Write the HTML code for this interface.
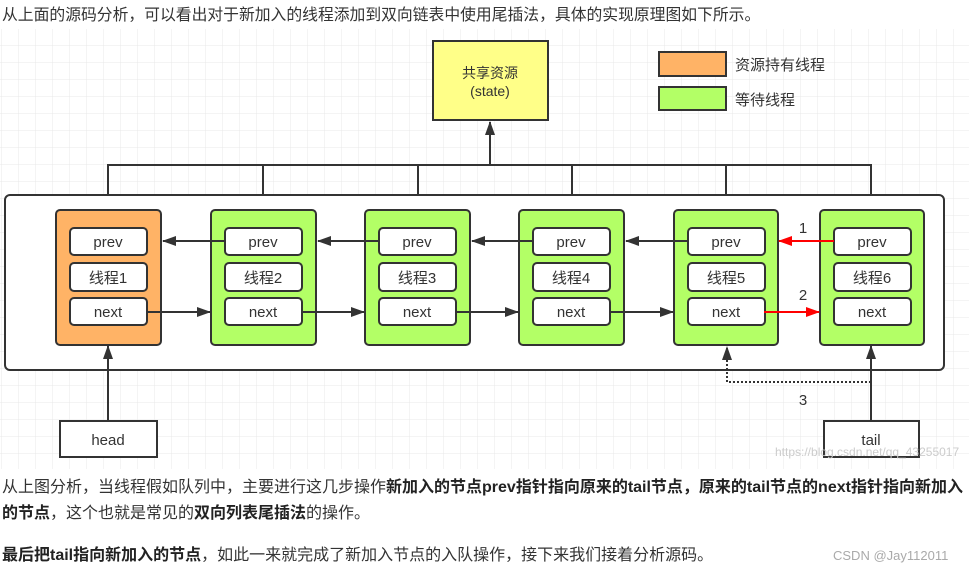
<!DOCTYPE html>
<html><head><meta charset="utf-8"><style>
body{margin:0;width:969px;height:573px;background:#fff;overflow:hidden;position:relative;font-family:"Liberation Sans","Noto Sans CJK SC",sans-serif;color:#333}
.t{position:absolute;left:2px;white-space:nowrap;font-size:16px;line-height:20px}
b{color:#222}
</style></head><body>
<div class="t" style="top:6px;font-size:15.8px">从上面的源码分析，可以看出对于新加入的线程添加到双向链表中使用尾插法，具体的实现原理图如下所示。</div>
<svg style="position:absolute;left:0;top:29px" width="969" height="440" viewBox="0 29 969 440" font-family="Liberation Sans,Noto Sans CJK SC,sans-serif">
<defs>
<pattern id="g" x="2" y="29" width="17" height="17" patternUnits="userSpaceOnUse"><path d="M17 0V17M0 17H17" stroke="#e8e8e8" fill="none" stroke-width="1"/></pattern>
<marker id="a" markerWidth="14" markerHeight="10" refX="13" refY="5" orient="auto" markerUnits="userSpaceOnUse"><path d="M0 0L14 5L0 10z" fill="#333"/></marker>
<marker id="r" markerWidth="14" markerHeight="10" refX="13" refY="5" orient="auto" markerUnits="userSpaceOnUse"><path d="M0 0L14 5L0 10z" fill="#f00"/></marker>
</defs>
<rect x="0" y="29" width="969" height="440" fill="url(#g)"/>
<g stroke="#333" stroke-width="2" fill="none">
<path d="M108 210V165H871V210M263 165V210M418 165V210M572 165V210M726 165V210"/>
<path d="M490 165V122" marker-end="url(#a)"/>
</g>
<rect x="433" y="41" width="115" height="79" fill="#ffff88" stroke="#333" stroke-width="2"/>
<text x="490" y="78" text-anchor="middle" font-size="14" fill="#333">共享资源</text>
<text x="490" y="96" text-anchor="middle" font-size="14" fill="#333">(state)</text>
<rect x="659" y="52" width="67" height="24" fill="#ffb366" stroke="#333" stroke-width="2"/>
<rect x="659" y="87" width="67" height="23" fill="#b3ff66" stroke="#333" stroke-width="2"/>
<text x="735" y="70" font-size="15" fill="#333">资源持有线程</text>
<text x="735" y="105" font-size="15" fill="#333">等待线程</text>
<rect x="5" y="195" width="939" height="175" rx="5" fill="#fff" stroke="#333" stroke-width="2"/>
<g font-size="15" fill="#333" text-anchor="middle" stroke-width="2">
<g transform="translate(56,0)"><rect y="210" width="105" height="135" rx="4" fill="#ffb366" stroke="#333"/>
<rect x="14" y="228" width="77" height="27" rx="4" fill="#fff" stroke="#333"/><rect x="14" y="263" width="77" height="28" rx="4" fill="#fff" stroke="#333"/><rect x="14" y="298" width="77" height="27" rx="4" fill="#fff" stroke="#333"/>
<text x="52" y="247">prev</text><text x="52" y="283">线程1</text><text x="52" y="317">next</text></g>
<g transform="translate(211,0)"><rect y="210" width="105" height="135" rx="4" fill="#b3ff66" stroke="#333"/>
<rect x="14" y="228" width="77" height="27" rx="4" fill="#fff" stroke="#333"/><rect x="14" y="263" width="77" height="28" rx="4" fill="#fff" stroke="#333"/><rect x="14" y="298" width="77" height="27" rx="4" fill="#fff" stroke="#333"/>
<text x="52" y="247">prev</text><text x="52" y="283">线程2</text><text x="52" y="317">next</text></g>
<g transform="translate(365,0)"><rect y="210" width="105" height="135" rx="4" fill="#b3ff66" stroke="#333"/>
<rect x="14" y="228" width="77" height="27" rx="4" fill="#fff" stroke="#333"/><rect x="14" y="263" width="77" height="28" rx="4" fill="#fff" stroke="#333"/><rect x="14" y="298" width="77" height="27" rx="4" fill="#fff" stroke="#333"/>
<text x="52" y="247">prev</text><text x="52" y="283">线程3</text><text x="52" y="317">next</text></g>
<g transform="translate(519,0)"><rect y="210" width="105" height="135" rx="4" fill="#b3ff66" stroke="#333"/>
<rect x="14" y="228" width="77" height="27" rx="4" fill="#fff" stroke="#333"/><rect x="14" y="263" width="77" height="28" rx="4" fill="#fff" stroke="#333"/><rect x="14" y="298" width="77" height="27" rx="4" fill="#fff" stroke="#333"/>
<text x="52" y="247">prev</text><text x="52" y="283">线程4</text><text x="52" y="317">next</text></g>
<g transform="translate(674,0)"><rect y="210" width="104" height="135" rx="4" fill="#b3ff66" stroke="#333"/>
<rect x="14" y="228" width="77" height="27" rx="4" fill="#fff" stroke="#333"/><rect x="14" y="263" width="77" height="28" rx="4" fill="#fff" stroke="#333"/><rect x="14" y="298" width="77" height="27" rx="4" fill="#fff" stroke="#333"/>
<text x="52" y="247">prev</text><text x="52" y="283">线程5</text><text x="52" y="317">next</text></g>
<g transform="translate(820,0)"><rect y="210" width="104" height="135" rx="4" fill="#b3ff66" stroke="#333"/>
<rect x="14" y="228" width="77" height="27" rx="4" fill="#fff" stroke="#333"/><rect x="14" y="263" width="77" height="28" rx="4" fill="#fff" stroke="#333"/><rect x="14" y="298" width="77" height="27" rx="4" fill="#fff" stroke="#333"/>
<text x="52" y="247">prev</text><text x="52" y="283">线程6</text><text x="52" y="317">next</text></g>
</g>
<g stroke="#333" stroke-width="2" fill="none">
<path d="M225 241H163" marker-end="url(#a)"/><path d="M379 241H318" marker-end="url(#a)"/><path d="M533 241H472" marker-end="url(#a)"/><path d="M688 241H626" marker-end="url(#a)"/>
<path d="M147 312H210" marker-end="url(#a)"/><path d="M302 312H364" marker-end="url(#a)"/><path d="M456 312H518" marker-end="url(#a)"/><path d="M610 312H673" marker-end="url(#a)"/>
<path d="M108 421V346" marker-end="url(#a)"/><path d="M871 421V346" marker-end="url(#a)"/>
<path d="M871 382H727V347" stroke-dasharray="2,2" marker-end="url(#a)"/>
</g>
<g stroke="#f00" stroke-width="2" fill="none">
<path d="M834 241H779" marker-end="url(#r)"/><path d="M764 312H819" marker-end="url(#r)"/>
</g>
<g font-size="15" fill="#333" text-anchor="middle"><text x="803" y="233">1</text><text x="803" y="300">2</text><text x="803" y="405">3</text></g>
<rect x="60" y="421" width="97" height="36" fill="#fff" stroke="#333" stroke-width="2"/>
<rect x="824" y="421" width="95" height="36" fill="#fff" stroke="#333" stroke-width="2"/>
<text x="108" y="445" text-anchor="middle" font-size="15" fill="#333">head</text>
<text x="871" y="445" text-anchor="middle" font-size="15" fill="#333">tail</text>
<text x="775" y="456" font-size="12" fill="#ccc">https://blog.csdn.net/qq_43255017</text>
</svg>
<div class="t" style="top:478px">从上图分析，当线程假如队列中，主要进行这几步操作<b>新加入的节点prev指针指向原来的tail节点，原来的tail节点的next指针指向新加入</b></div>
<div class="t" style="top:504px"><b>的节点</b>，这个也就是常见的<b>双向列表尾插法</b>的操作。</div>
<div class="t" style="top:546px"><b>最后把tail指向新加入的节点</b>，如此一来就完成了新加入节点的入队操作，接下来我们接着分析源码。</div>
<div style="position:absolute;left:833px;top:548px;font-size:13px;color:#aaa;font-family:'Liberation Sans',sans-serif">CSDN @Jay112011</div>
</body></html>
